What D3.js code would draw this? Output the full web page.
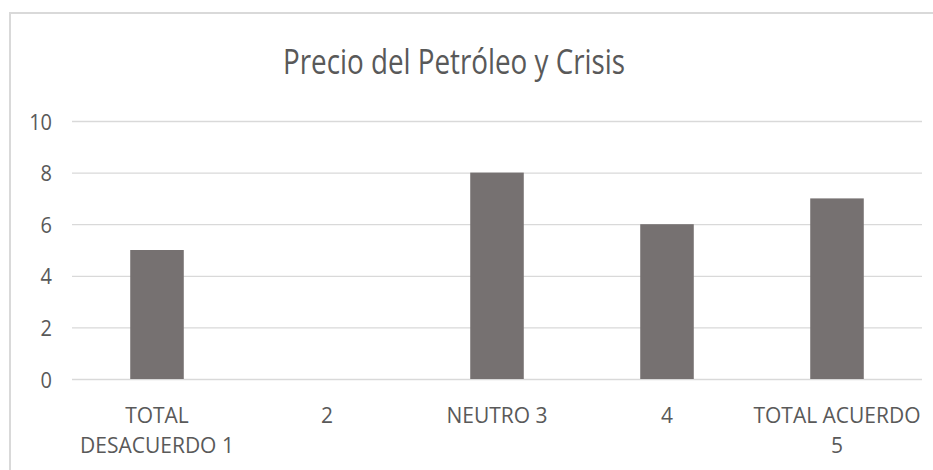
<!DOCTYPE html>
<html>
<head>
<meta charset="utf-8">
<script src="https://cdn.jsdelivr.net/npm/d3@7"></script>
<style>
  html, body { margin: 0; padding: 0; background: #fff; }
  svg { display: block; }
  svg text { font-family: "Open Sans", "Noto Sans", sans-serif; }
</style>
</head>
<body>
<div id="chart"></div>
<script>
const title = "Precio del Petróleo y Crisis";
const categories = ["TOTAL\nDESACUERDO 1", "2", "NEUTRO 3", "4", "TOTAL ACUERDO\n5"];
const values = [5, 0, 8, 6, 7];
const yTicks = [0, 2, 4, 6, 8, 10];

const width = 933, height = 470;
const margin = { top: 121, right: 11, bottom: 91, left: 72 };
const textColor = "#595959";
const gridColor = "#d9d9d9";

const svg = d3.select("#chart")
  .append("svg")
  .attr("width", width)
  .attr("height", height);

// chart frame
svg.append("rect")
  .attr("x", 10)
  .attr("y", 13)
  .attr("width", 940)
  .attr("height", 480)
  .attr("fill", "none")
  .attr("stroke", gridColor)
  .attr("stroke-width", 2);

const x = d3.scaleBand()
  .domain(categories)
  .range([margin.left, width - margin.right])
  .paddingInner(0.685)
  .paddingOuter(0.3425);

const y = d3.scaleLinear()
  .domain([0, 10])
  .range([height - margin.bottom, margin.top]);

// gridlines + y labels
const yAxis = svg.append("g")
  .attr("transform", `translate(${margin.left},0)`)
  .call(d3.axisLeft(y).tickValues(yTicks).tickSize(-(width - margin.left - margin.right)).tickPadding(20));
yAxis.attr("font-family", null);
yAxis.select(".domain").remove();
yAxis.selectAll(".tick line").attr("stroke", gridColor).attr("stroke-width", 1.3);
yAxis.selectAll(".tick text")
  .attr("fill", textColor)
  .style("font-size", "20px")
  .attr("dy", null)
  .attr("transform", "translate(0,8) scale(1,1.1)");

// bars
svg.append("g")
  .selectAll("rect")
  .data(values)
  .join("rect")
  .attr("x", (d, i) => x(categories[i]))
  .attr("y", d => y(d))
  .attr("width", x.bandwidth())
  .attr("height", d => y(0) - y(d))
  .attr("fill", "#767171");

// x labels
const xAxis = svg.append("g")
  .attr("transform", `translate(0,${height - margin.bottom})`)
  .call(d3.axisBottom(x).tickSize(0).tickFormat(""));
xAxis.attr("font-family", null);
xAxis.select(".domain").remove();
xAxis.selectAll(".tick").each(function (d) {
  const lines = d.split("\n");
  const t = d3.select(this).append("text")
    .attr("fill", textColor)
    .attr("text-anchor", "middle")
    .style("font-size", "21px")
    .attr("transform", "translate(0,44) scale(1,1.05)");
  lines.forEach((l, i) => {
    t.append("tspan").attr("x", 0).attr("y", i * 28.6).text(l);
  });
});

// title
svg.append("text")
  .attr("text-anchor", "middle")
  .attr("fill", textColor)
  .style("font-size", "26px")
  .attr("transform", "translate(454,74) scale(1,1.3)")
  .attr("textLength", 342)
  .attr("lengthAdjust", "spacingAndGlyphs")
  .text(title);
</script>
</body>
</html>
